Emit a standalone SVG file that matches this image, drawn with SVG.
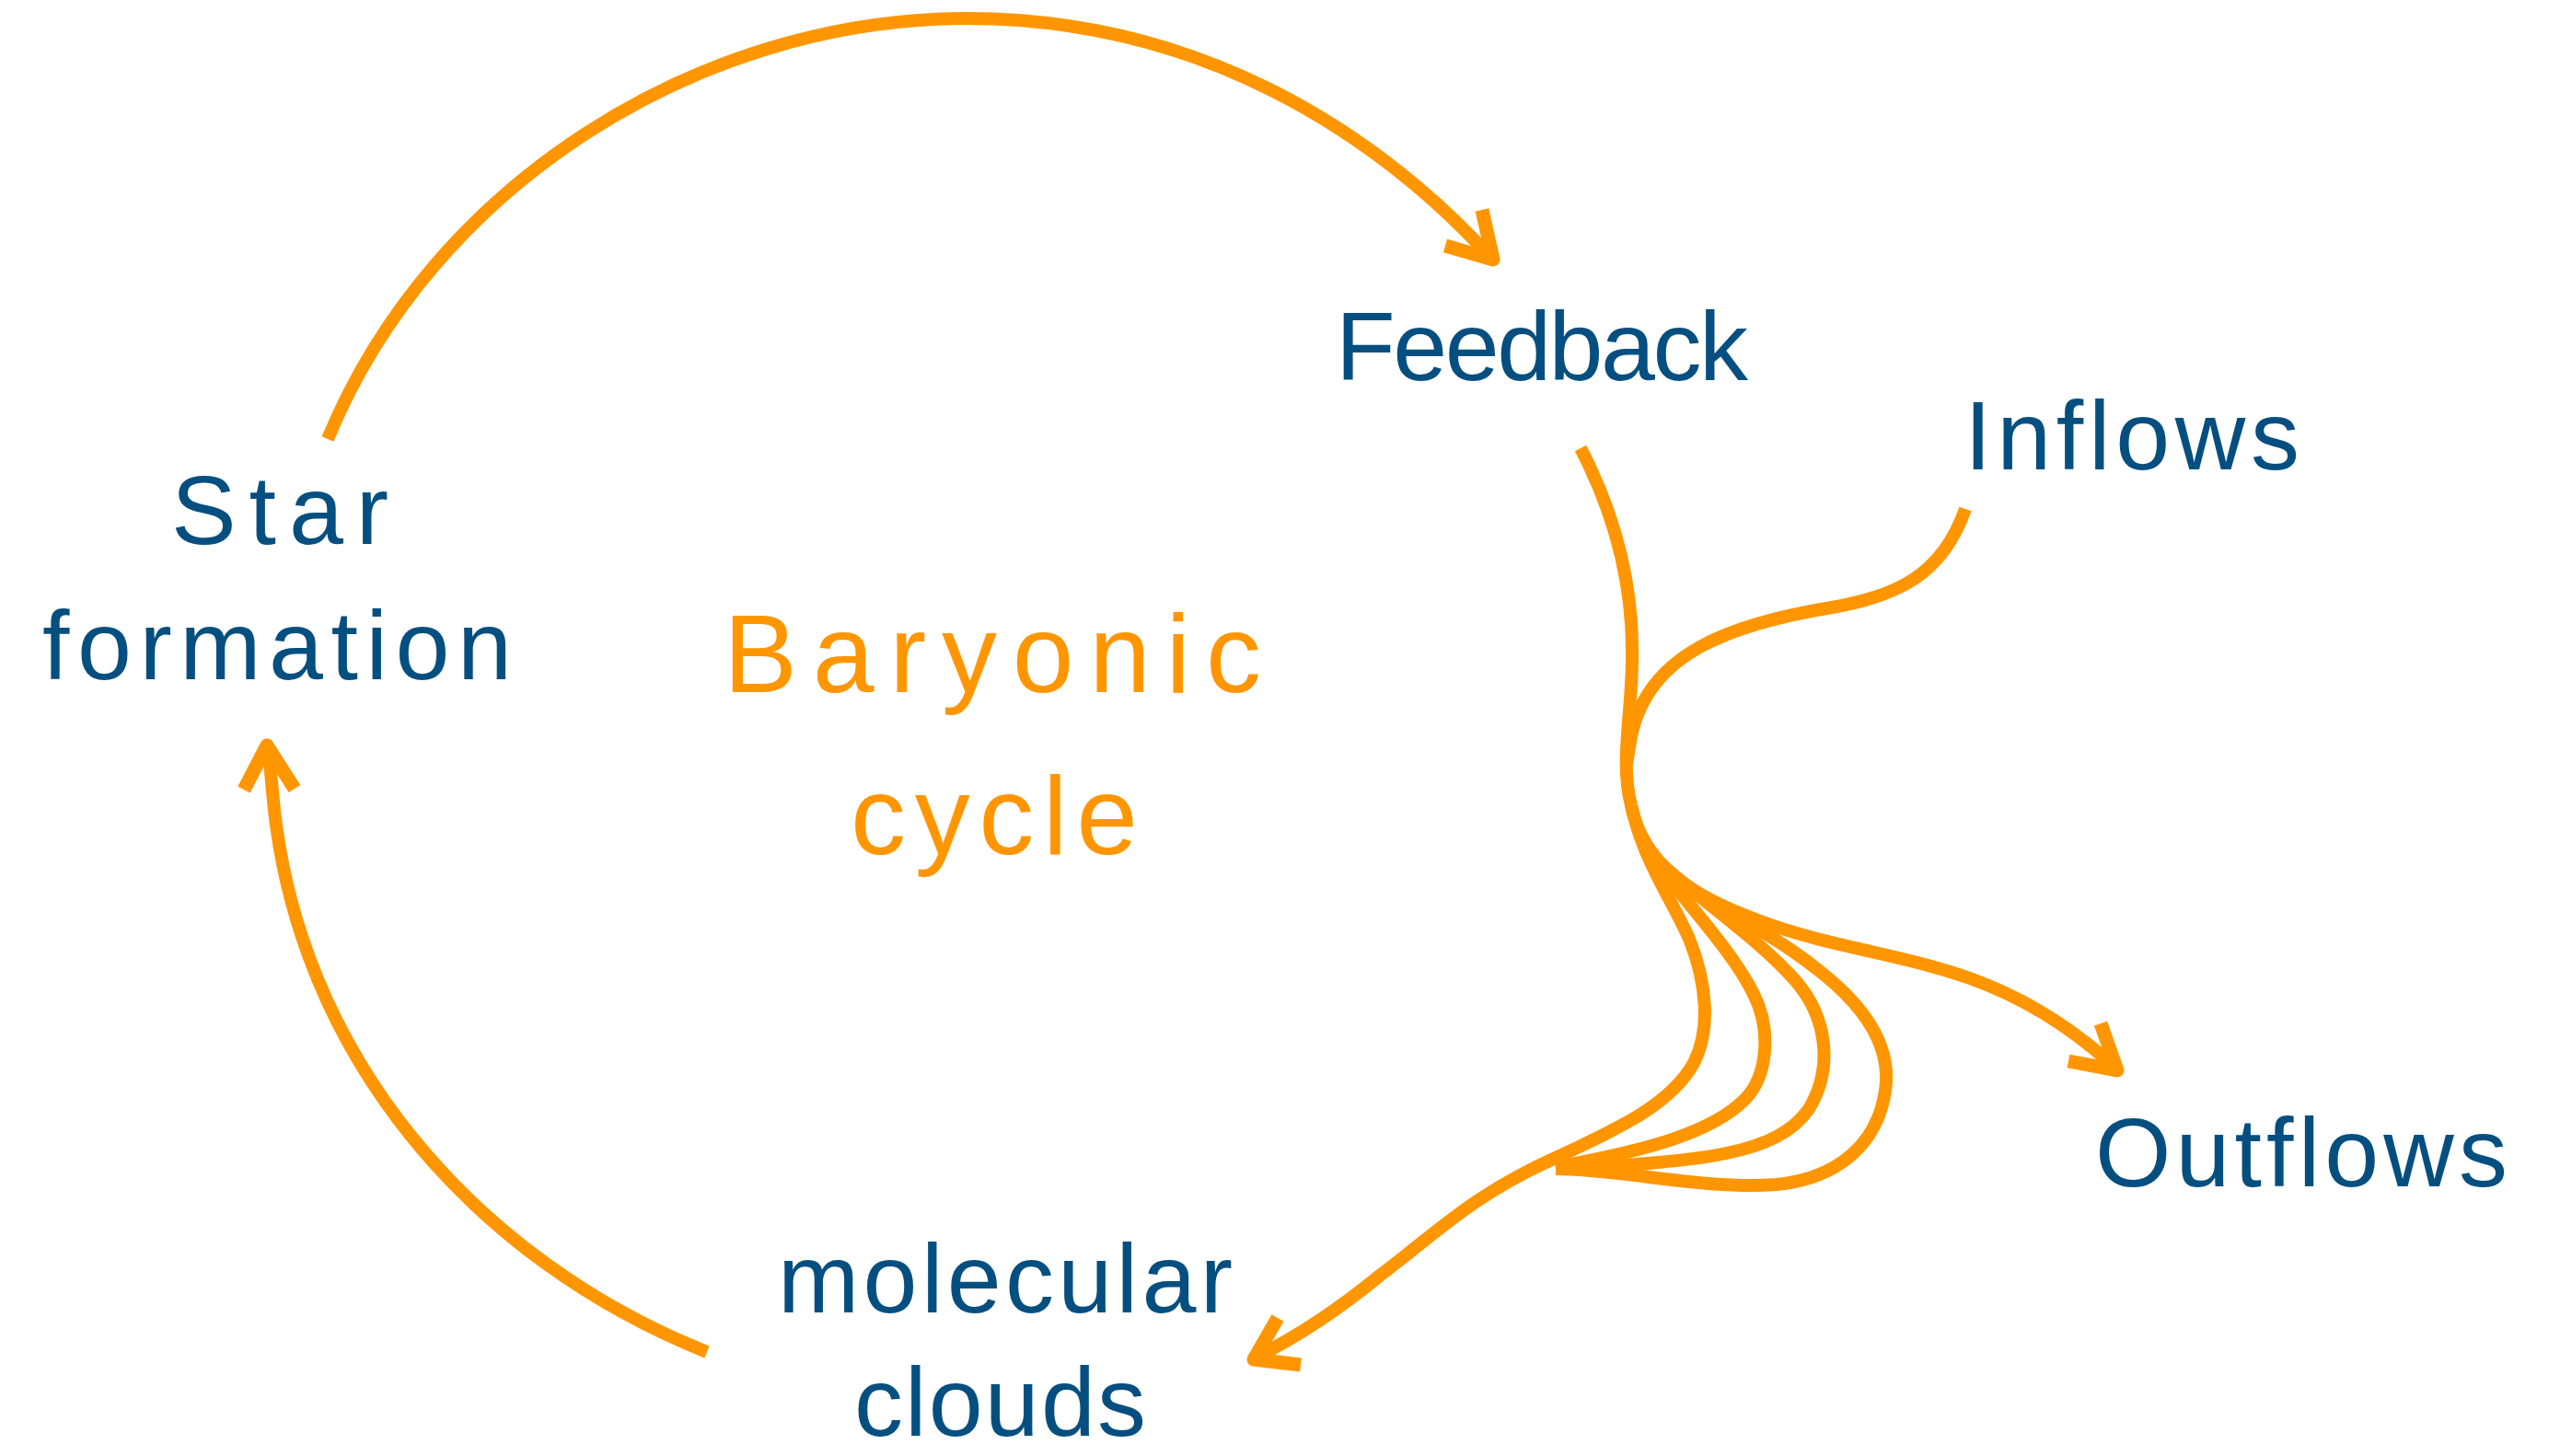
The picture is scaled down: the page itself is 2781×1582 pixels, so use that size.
<svg xmlns="http://www.w3.org/2000/svg" width="2781" height="1582" viewBox="0 0 2781 1582">
<style>
.lbl{font-family:"Liberation Sans",Arial,sans-serif;font-size:106px;fill:#054f80}
.title{font-family:"Liberation Sans",Arial,sans-serif;font-size:120px;fill:#ff9600}
.flow{fill:none;stroke:#ff9600;stroke-width:14;stroke-linecap:butt;stroke-linejoin:round}
.head{fill:none;stroke:#ff9600;stroke-width:15;stroke-linecap:butt;stroke-linejoin:round}
</style>
<rect width="2781" height="1582" fill="#ffffff"/>
<g id="title">
<text class="title" x="786" y="752" textLength="584">Baryonic</text>
<text class="title" x="924" y="928" textLength="312">cycle</text>
</g>
<g id="node-star-formation">
<text class="lbl" x="186" y="591" textLength="236">Star</text>
<text class="lbl" x="46" y="738" textLength="510">formation</text>
</g>
<g id="node-feedback">
<text class="lbl" x="1451" y="413" textLength="448">Feedback</text>
</g>
<g id="node-inflows">
<text class="lbl" x="2134" y="510" textLength="364">Inflows</text>
</g>
<g id="node-outflows">
<text class="lbl" x="2276" y="1289" textLength="448">Outflows</text>
</g>
<g id="node-molecular-clouds">
<text class="lbl" x="845" y="1426" textLength="494">molecular</text>
<text class="lbl" x="928" y="1560" textLength="317">clouds</text>
</g>
<g id="connectors">
<path class="flow" d="M356,477 C470,200 760,20 1050,20 C1300,20 1490,140 1618,278"/>
<polyline class="head" points="1610,228 1622,282 1570,267"/>
<path class="flow" d="M768,1469 C520,1370 320,1150 296,860 L292,816"/>
<polyline class="head" points="265,858 290,810 320,857"/>
<path class="flow" d="M2135,553 C2110,625 2060,648 1990,660 C1880,678 1790,710 1772,800 L1767,830"/>
<path class="flow" stroke-width="15" d="M1717,487 C1755,560 1775,640 1773,720 C1772,780 1760,830 1772,875"/>
<path class="flow" stroke-width="15" d="M1772,875 C1785,935 1815,975 1835,1020 C1855,1070 1858,1120 1840,1155 C1815,1200 1760,1225 1690,1258 C1600,1298 1560,1340 1500,1385 C1460,1418 1410,1452 1364,1475"/>
<path class="flow" d="M1790,925 C1830,980 1880,1030 1905,1080 C1925,1120 1920,1170 1895,1195 C1860,1230 1790,1250 1690,1268"/>
<path class="flow" d="M1800,935 C1850,980 1910,1020 1950,1065 C1985,1105 1992,1160 1965,1205 C1930,1255 1850,1262 1690,1270"/>
<path class="flow" d="M1810,950 C1860,985 1920,1010 1970,1050 C2030,1095 2055,1140 2048,1185 C2040,1240 2000,1280 1930,1287 C1850,1293 1760,1270 1690,1270"/>
<path class="flow" d="M1772,875 C1785,940 1840,975 1910,1000 C1990,1030 2060,1035 2140,1063 C2210,1088 2260,1125 2298,1160"/>
<polyline class="head" points="2282,1112 2300,1163 2247,1153"/>
<polyline class="head" points="1388,1432 1362,1477 1413,1483"/>
</g>
</svg>
